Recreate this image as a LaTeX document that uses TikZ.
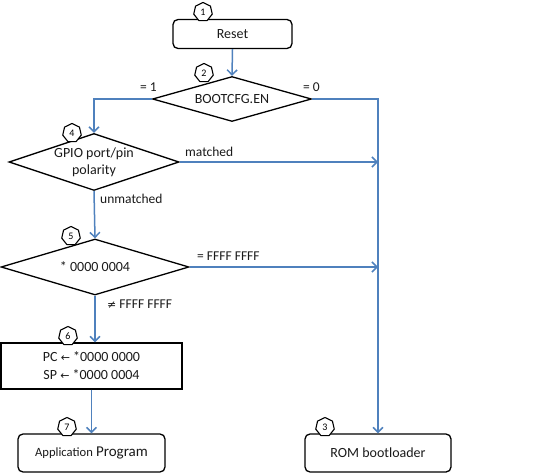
\documentclass[tikz,border=0pt]{standalone}
\usepackage{fontspec}
\setmainfont{Carlito}
\newfontfamily\symfont{DejaVu Sans}
\usetikzlibrary{shapes.geometric,arrows.meta}
\definecolor{flowblue}{HTML}{4F81BD}
\definecolor{txtc}{HTML}{1A1A1A}
\tikzset{
  base/.style={draw=black, line width=1.3pt, text=txtc, font=\fontsize{14}{17}\selectfont},
  rbox/.style={base, rectangle, rounded corners=5pt, inner sep=0pt},
  sbox/.style={base, rectangle, inner sep=0pt, align=center},
  dia/.style={draw=black, line width=1.3pt, diamond, inner sep=0pt},
  dtext/.style={text=txtc, font=\fontsize{14}{17}\selectfont, align=center, inner sep=0pt},
  badge/.style={draw=black, line width=1.1pt, fill=white, regular polygon, regular polygon sides=7, minimum size=19pt, inner sep=0pt, font=\fontsize{10}{10}\selectfont},
  flow/.style={draw=flowblue, line width=1.5pt, -{Straight Barb[length=5pt,width=10pt]}},
  elab/.style={text=txtc, font=\fontsize{13.5}{16}\selectfont, inner sep=0pt}
}
\begin{document}
\begin{tikzpicture}[x=1pt,y=-1pt]
\useasboundingbox (0,0) rectangle (549,473);
% nodes
\node[rbox, minimum width=119pt, minimum height=29pt] (reset) at (232.5,34) {Reset};
\node[dia, minimum width=159pt, minimum height=45pt] (d2) at (232,99) {};
\node[dtext] (d2t) at (d2.center) {BOOTCFG.EN};
\node[dia, minimum width=170pt, minimum height=57pt] (d4) at (94,162) {};
\node[dtext] (d4t) at (d4.center) {GPIO port/pin\\polarity};
\node[dia, minimum width=188pt, minimum height=56pt] (d5) at (95,267) {};
\node[dtext] (d5t) at (d5.center) {* 0000 0004};
\node[sbox, minimum width=181pt, minimum height=46pt] (b6) at (91.5,366) {PC {\symfont\fontsize{11}{13}\selectfont ←} *0000 0000\\[1pt]SP {\symfont\fontsize{11}{13}\selectfont ←} *0000 0004};
\node[rbox, minimum width=147pt, minimum height=38pt] (app) at (91.5,453) {{\fontsize{12.6}{15}\selectfont Application} {\fontsize{15}{18}\selectfont Program}};
\node[rbox, minimum width=146pt, minimum height=38pt] (rom) at (378,453) {ROM bootloader};
% badges
\node[badge] (n1) at (203,12) {1};
\node[badge] (n2) at (204,73) {2};
\node[badge] (n4) at (72,133) {4};
\node[badge] (n5) at (71,236) {5};
\node[badge] (n6) at (68,336) {6};
\node[badge] (n7) at (67,427) {7};
\node[badge] (n3) at (325,427) {3};
% corner coordinates
\coordinate (cl) at (94,99);
\coordinate (cr) at (378,99);
\coordinate (m4) at (378,162);
\coordinate (m5) at (378,267);
% connectors
\draw[flow] (reset.south) -- (d2.north);
\draw[flow] (d2.west) -- (cl) -- (d4.north);
\draw[flow] (d2.east) -- (cr) -- (rom.north);
\draw[flow] (d4.east) -- (m4);
\draw[flow] (d4.south) -- (d5.north);
\draw[flow] (d5.east) -- (m5);
\draw[flow] (d5.south) -- (d5.south |- b6.north);
\draw[flow] (b6.south) -- (app.north);
% edge labels
\node[elab, anchor=base west] (l1) at (140,92) {= 1};
\node[elab, anchor=base west] (l0) at (303,92) {= 0};
\node[elab, anchor=base west] (lm) at (185,157) {matched};
\node[elab, anchor=base west] (lu) at (100,204) {unmatched};
\node[elab, anchor=base west] (lf) at (197,261) {= FFFF FFFF};
\node[elab, anchor=base west] (ln) at (107,308) {{\symfont\fontsize{11}{13}\selectfont ≠} FFFF FFFF};
\end{tikzpicture}
\end{document}
